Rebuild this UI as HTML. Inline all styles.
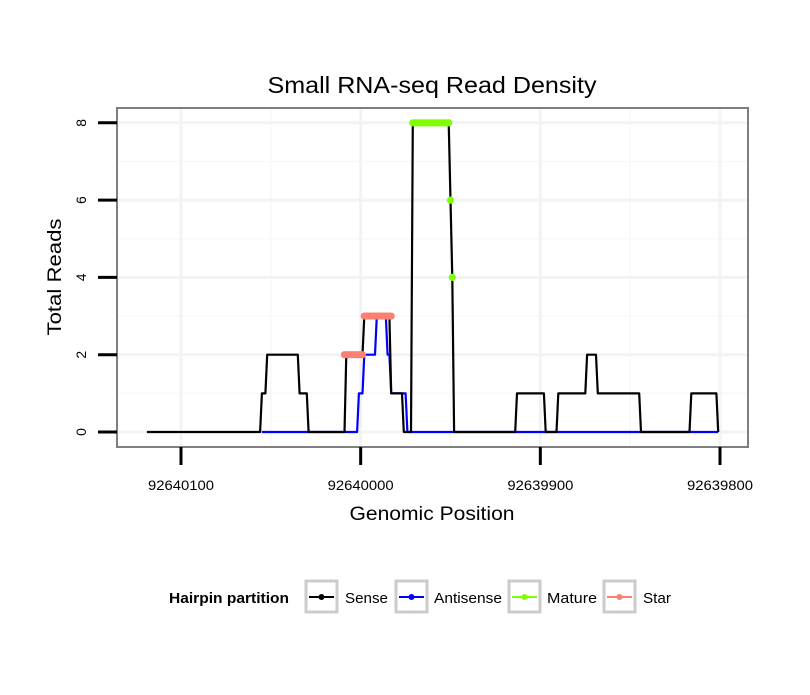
<!DOCTYPE html>
<html><head><meta charset="utf-8"><style>
body{margin:0;background:#fff;font-family:"Liberation Sans",sans-serif;}
</style></head><body>
<svg id="chart" width="810" height="690" xmlns="http://www.w3.org/2000/svg">
<rect width="810" height="690" fill="#fff"/>
<text x="432" y="93" font-size="23" text-anchor="middle" textLength="329" lengthAdjust="spacingAndGlyphs">Small RNA-seq Read Density</text>
<g id="grid"></g>
<g id="series"></g>
<rect x="117" y="108" width="631" height="339" fill="none" stroke="#7f7f7f" stroke-width="2"/>
<g id="axes"></g>
<text x="432" y="520" font-size="19" text-anchor="middle" textLength="165" lengthAdjust="spacingAndGlyphs">Genomic Position</text>
<text transform="translate(61,277) rotate(-90)" font-size="19" text-anchor="middle" textLength="117" lengthAdjust="spacingAndGlyphs">Total Reads</text>
<g>
<text x="169" y="603" font-size="15" font-weight="bold" textLength="120" lengthAdjust="spacingAndGlyphs">Hairpin partition</text>
<g><rect x="306" y="581" width="31" height="31" fill="#fff" stroke="#cccccc" stroke-width="3"/><line x1="309" y1="597" x2="334" y2="597" stroke="#000" stroke-width="2"/><circle cx="321.5" cy="597" r="3" fill="#000"/><text x="345" y="603" font-size="15" textLength="43" lengthAdjust="spacingAndGlyphs">Sense</text></g>
<g><rect x="396" y="581" width="31" height="31" fill="#fff" stroke="#cccccc" stroke-width="3"/><line x1="399" y1="597" x2="424" y2="597" stroke="#0000ff" stroke-width="2"/><circle cx="411.5" cy="597" r="3" fill="#0000ff"/><text x="434" y="603" font-size="15" textLength="68" lengthAdjust="spacingAndGlyphs">Antisense</text></g>
<g><rect x="509" y="581" width="31" height="31" fill="#fff" stroke="#cccccc" stroke-width="3"/><line x1="512" y1="597" x2="537" y2="597" stroke="#7fff00" stroke-width="2"/><circle cx="524.5" cy="597" r="3" fill="#7fff00"/><text x="547" y="603" font-size="15" textLength="50" lengthAdjust="spacingAndGlyphs">Mature</text></g>
<g><rect x="604" y="581" width="31" height="31" fill="#fff" stroke="#cccccc" stroke-width="3"/><line x1="607" y1="597" x2="632" y2="597" stroke="#fa8072" stroke-width="2"/><circle cx="619.5" cy="597" r="3" fill="#fa8072"/><text x="643" y="603" font-size="15" textLength="28" lengthAdjust="spacingAndGlyphs">Star</text></g>
</g>
</svg>
<script>
const xTicks = [92640100, 92640000, 92639900, 92639800];
const yTicks = [0, 2, 4, 6, 8];
const senseX = [92640119,92640056,92640055,92640053,92640052,92640035,92640034,92640030,92640029,92640009,92640008,92639999,92639998,92639984,92639983,92639977,92639976,92639972,92639971,92639951,92639950,92639949,92639948,92639914,92639913,92639898,92639897,92639891,92639890,92639875,92639874,92639869,92639868,92639845,92639844,92639817,92639816,92639802,92639801];
const senseY = [0,0,1,1,2,2,1,1,0,0,2,2,3,3,1,1,0,0,8,8,6,4,0,0,1,1,0,0,1,1,2,2,1,1,0,0,1,1,0];
const antiX = [92640055,92640002,92640001,92639999,92639998,92639992,92639991,92639986,92639985,92639984,92639983,92639975,92639974,92639801];
const antiY = [0,0,1,1,2,2,3,3,2,2,1,1,0,0];
const matureX = [92639971,92639970,92639969,92639968,92639967,92639966,92639965,92639964,92639963,92639962,92639961,92639960,92639959,92639958,92639957,92639956,92639955,92639954,92639953,92639952,92639951,92639950,92639949];
const matureY = [8,8,8,8,8,8,8,8,8,8,8,8,8,8,8,8,8,8,8,8,8,6,4];
const starX = [92640009,92640008,92640007,92640006,92640005,92640004,92640003,92640002,92640001,92640000,92639999,92639998,92639997,92639996,92639995,92639994,92639993,92639992,92639991,92639990,92639989,92639988,92639987,92639986,92639985,92639984,92639983];
const starY = [2,2,2,2,2,2,2,2,2,2,2,3,3,3,3,3,3,3,3,3,3,3,3,3,3,3,3];

const NS = "http://www.w3.org/2000/svg";
function xs(p){ return 181 + (92640100 - p) * 1.7967; }
function ys(v){ return 432 - v * 38.65; }
function mk(tag, attrs, parent){ const e=document.createElementNS(NS,tag); for(const k in attrs) e.setAttribute(k,attrs[k]); parent.appendChild(e); return e; }

const grid=document.getElementById('grid'), axes=document.getElementById('axes'), series=document.getElementById('series');
for(let i=0;i<yTicks.length-1;i++){
  const gl=mk('line',{x1:117,x2:748,y1:ys((yTicks[i]+yTicks[i+1])/2),y2:ys((yTicks[i]+yTicks[i+1])/2),stroke:'#f8f8f8','stroke-width':1.5},grid);
  
  
}
for(let i=0;i<xTicks.length-1;i++){
  const gl=mk('line',{x1:xs((xTicks[i]+xTicks[i+1])/2),x2:xs((xTicks[i]+xTicks[i+1])/2),y1:108,y2:447,stroke:'#f8f8f8','stroke-width':1.5},grid);
  
  
}
yTicks.forEach(v=>{
  const gl=mk('line',{x1:117,x2:748,y1:ys(v),y2:ys(v),stroke:'#f3f3f3','stroke-width':3},grid);
  
  
  const t=mk('line',{x1:98,x2:117,y1:ys(v),y2:ys(v),stroke:'#000','stroke-width':3},axes);
  
  
  const l=mk('text',{transform:`translate(86,${ys(v)}) rotate(-90)`,'font-size':14,'text-anchor':'middle'},axes);
  l.textContent=v;
  
  
});
xTicks.forEach(p=>{
  const gl=mk('line',{x1:xs(p),x2:xs(p),y1:108,y2:447,stroke:'#f3f3f3','stroke-width':3},grid);
  
  
  const t=mk('line',{x1:xs(p),x2:xs(p),y1:447,y2:465,stroke:'#000','stroke-width':3},axes);
  
  
  const l=mk('text',{x:xs(p),y:490,'font-size':14,'text-anchor':'middle',textLength:66,lengthAdjust:'spacingAndGlyphs'},axes);
  l.textContent=p;
  
  
});
function path(X,Y,color,name){
  const d=X.map((p,i)=>(i?'L':'M')+xs(p).toFixed(1)+','+ys(Y[i]).toFixed(1)).join('');
  const e=mk('path',{d:d,fill:'none',stroke:color,'stroke-width':2.2,'stroke-linejoin':'round'},series);
  
  
}
function pts(X,Y,color,name){
  X.forEach((p,i)=>{
    const c=mk('circle',{cx:xs(p),cy:ys(Y[i]),r:3.6,fill:color},series);
    
    
  });
}
path(antiX,antiY,'#0000ff','antisense-line');
path(senseX,senseY,'#000000','sense-line');
pts(starX,starY,'#fa8072','star-point');
pts(matureX,matureY,'#7fff00','mature-point');
</script>
</body></html>
